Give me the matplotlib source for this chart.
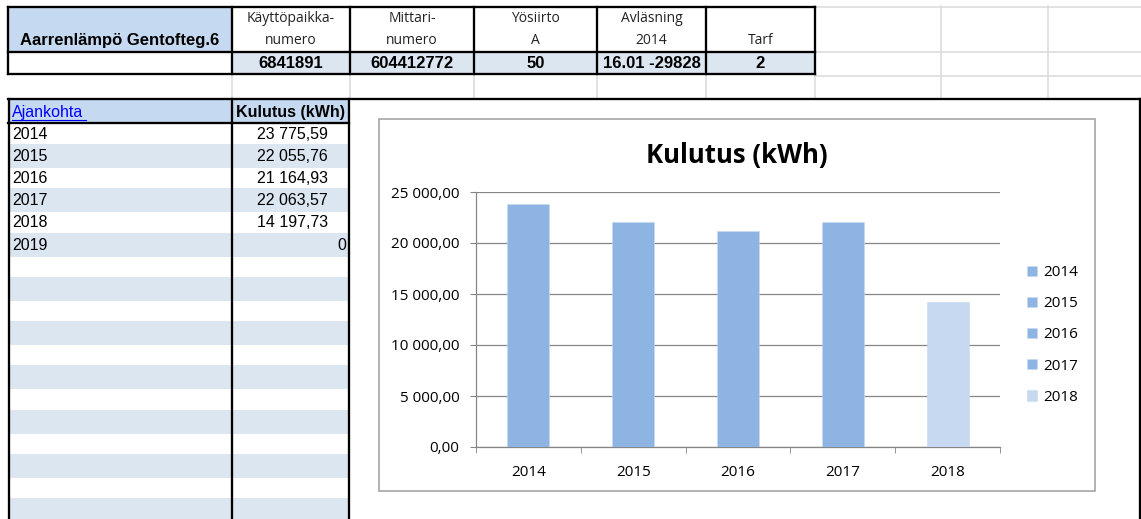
import matplotlib
matplotlib.use("Agg")
import matplotlib.pyplot as plt
from matplotlib.patches import Rectangle
from matplotlib.ticker import FuncFormatter

W, H = 1141, 519

# ── data ────────────────────────────────────────────────────────────────
site_name = "Aarrenlämpö Gentofteg.6"
info_top = ["Käyttöpaikka-", "Mittari-", "Yösiirto", "Avläsning", ""]
info_bottom = ["numero", "numero", "A", "2014", "Tarf"]
info_values = ["6841891", "604412772", "50", "16.01 -29828", "2"]

years = ["2014", "2015", "2016", "2017", "2018", "2019"]
consumption = [23775.59, 22055.76, 21164.93, 22063.57, 14197.73, 0]

chart_years = years[:5]
chart_values = consumption[:5]
chart_colors = ["#8eb4e3", "#8eb4e3", "#8eb4e3", "#8eb4e3", "#c6d9f1"]

# palette
HEAD_FILL = "#c5d9f1"
BAND_FILL = "#dce6f1"
GRID = "#d9d9d9"
SHEET_FONT = "Liberation Sans"
CHART_FONT = "Open Sans"


def fi_number(v, decimals=2):
    """Finnish style: space as thousands separator, comma as decimal."""
    s = f"{v:,.{decimals}f}"
    return s.replace(",", " ").replace(".", ",")


def cell_value(v):
    return "0" if v == 0 else fi_number(v)


fig = plt.figure(figsize=(W / 100, H / 100), dpi=100)
bg = fig.add_axes([0, 0, 1, 1])
bg.set_xlim(0, W)
bg.set_ylim(H, 0)
bg.axis("off")

THICK = 2.3 * 0.72
THIN = 1.0 * 0.72

# ── top info block ──────────────────────────────────────────────────────
cols = [8, 232, 350, 474, 597, 706, 815]
# light sheet gridlines on the right / blank row
for x in [815, 941, 1048]:
    bg.plot([x, x], [6, 99], color=GRID, lw=THIN * 1.5, zorder=1)
for y in [7, 52, 76]:
    bg.plot([815, W], [y, y], color=GRID, lw=THIN * 1.5, zorder=1)
for x in cols[1:-1]:
    bg.plot([x, x], [74, 99], color=GRID, lw=THIN * 1.5, zorder=1)

bg.add_patch(Rectangle((8, 7), 224, 45, facecolor=HEAD_FILL, lw=0, zorder=2))
bg.add_patch(Rectangle((232, 52), 815 - 232, 22, facecolor=BAND_FILL, lw=0, zorder=2))

bg.text(120, 41, site_name, ha="center", va="center", fontsize=12,
        fontweight="bold", family=SHEET_FONT, zorder=5)
for i in range(5):
    cx = (cols[i + 1] + cols[i + 2]) / 2
    bg.text(cx, 18, info_top[i], ha="center", va="center", fontsize=10,
            family=CHART_FONT, color="#222222", zorder=5)
    bg.text(cx, 41, info_bottom[i], ha="center", va="center", fontsize=10,
            family=CHART_FONT, color="#222222", zorder=5)
    bg.text(cx, 64, info_values[i], ha="center", va="center", fontsize=12,
            fontweight="bold", family=SHEET_FONT, zorder=5)

for y in [7, 52, 74]:
    bg.plot([8, 815], [y, y], color="black", lw=THICK, zorder=4,
            solid_capstyle="projecting")
for x in cols:
    bg.plot([x, x], [7, 74], color="black", lw=THICK, zorder=4)

# thick frame around the lower area
bg.plot([8, 1140], [99, 99], color="black", lw=THICK, zorder=4,
        solid_capstyle="projecting")
bg.plot([1140, 1140], [99, H], color="black", lw=THICK, zorder=4)

# ── left table ──────────────────────────────────────────────────────────
ROW0, PITCH = 123, 22.12
n_rows = 18
bg.add_patch(Rectangle((8, 99), 341, 24, facecolor=HEAD_FILL, lw=0, zorder=2))
for i in range(n_rows):
    top = ROW0 + PITCH * i
    if i % 2 == 1:
        bg.add_patch(Rectangle((8, top - 1), 341, PITCH + 2,
                               facecolor=BAND_FILL, lw=0, zorder=2))

bg.text(12, 112, "Ajankohta", ha="left", va="center", fontsize=11.5,
        family=SHEET_FONT, color="#0000ff", zorder=5)
bg.plot([12, 86], [119.5, 119.5], color="#0000ff", lw=0.8, zorder=5)
bg.text(290, 112, "Kulutus (kWh)", ha="center", va="center", fontsize=11.5,
        fontweight="bold", family=SHEET_FONT, zorder=5)

for i, (yr, v) in enumerate(zip(years, consumption)):
    cy = ROW0 + PITCH * i + 11.5
    bg.text(12, cy, yr, ha="left", va="center", fontsize=11.5,
            family=SHEET_FONT, zorder=5)
    xr = 346 if v == 0 else 328
    bg.text(xr, cy, cell_value(v), ha="right", va="center", fontsize=11.5,
            family=SHEET_FONT, zorder=5)

bg.plot([8, 349], [123, 123], color="black", lw=THICK, zorder=4)
for x in [9, 232, 349]:
    bg.plot([x, x], [99, H], color="black", lw=THICK, zorder=4)

# ── chart ───────────────────────────────────────────────────────────────
bg.add_patch(Rectangle((379, 119), 1095 - 379, 491 - 119, facecolor="white",
                       edgecolor="#a6a6a6", lw=1.2, zorder=3))

PL, PR, PT, PB = 476, 1000, 192, 447
ax = fig.add_axes([PL / W, 1 - PB / H, (PR - PL) / W, (PB - PT) / H])
ax.patch.set_alpha(0)
x = list(range(len(chart_years)))
bars = ax.bar(x, chart_values, width=0.4, color=chart_colors,
              edgecolor="#c9d9ee", linewidth=0.4, zorder=3)
ax.set_xlim(-0.5, len(chart_years) - 0.5)
ax.set_ylim(0, 25000)
ax.set_yticks(range(0, 25001, 5000))
ax.yaxis.set_major_formatter(FuncFormatter(lambda v, _: fi_number(v)))
ax.set_xticks(x)
ax.set_xticklabels(chart_years)
ax.set_xticks([i - 0.5 for i in range(len(chart_years) + 1)], minor=True)
ax.grid(axis="y", color="#868686", lw=0.9, zorder=1)
for s in ["top", "right"]:
    ax.spines[s].set_visible(False)
for s in ["left", "bottom"]:
    ax.spines[s].set_color("#868686")
    ax.spines[s].set_linewidth(0.9)
ax.tick_params(axis="y", length=4, color="#868686", pad=8, labelsize=11,
               labelcolor="black")
ax.tick_params(axis="x", which="major", length=0, pad=13, labelsize=11)
ax.tick_params(axis="x", which="minor", length=4, color="#868686")
for lab in ax.get_xticklabels() + ax.get_yticklabels():
    lab.set_family(CHART_FONT)

fig.text(737 / W, 1 - 155 / H, "Kulutus (kWh)", ha="center", va="center",
         fontsize=18.5, fontweight="bold", family=CHART_FONT)

ax.legend(bars, chart_years, loc="center left",
          bbox_to_anchor=(1027 / W, 1 - 335 / H), bbox_transform=fig.transFigure,
          frameon=False, borderpad=0, borderaxespad=0, handlelength=0.65,
          handleheight=0.65, handletextpad=0.4, labelspacing=1.06,
          prop={"family": CHART_FONT, "size": 11})

fig.savefig("out.png", dpi=100)
